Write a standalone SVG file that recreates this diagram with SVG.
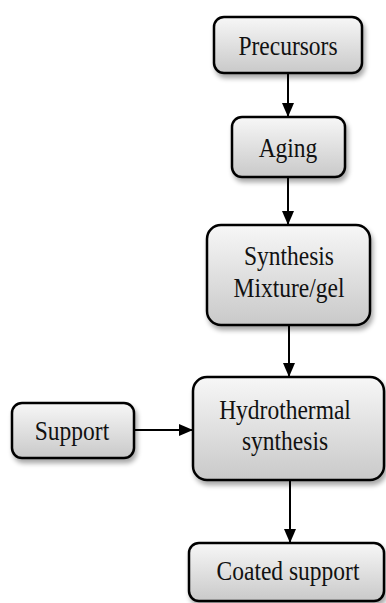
<svg xmlns="http://www.w3.org/2000/svg" width="386" height="603" viewBox="0 0 386 603">
  <defs>
    <linearGradient id="boxFill" x1="0" y1="0" x2="0" y2="1">
      <stop offset="0" stop-color="#f7f7f7"/>
      <stop offset="1" stop-color="#c9c9c9"/>
    </linearGradient>
    <filter id="shadow" x="-20%" y="-20%" width="150%" height="160%">
      <feGaussianBlur in="SourceAlpha" stdDeviation="2.5"/>
      <feOffset dx="2" dy="4" result="blur"/>
      <feComponentTransfer><feFuncA type="linear" slope="0.35"/></feComponentTransfer>
      <feMerge><feMergeNode/><feMergeNode in="SourceGraphic"/></feMerge>
    </filter>
    <marker id="arrow" viewBox="0 0 14 12" refX="14" refY="6" markerWidth="14" markerHeight="12" markerUnits="userSpaceOnUse" orient="auto">
      <path d="M0,0 L14,6 L0,12 Z" fill="#000"/>
    </marker>
  </defs>
  <style>
    .box { fill: url(#boxFill); stroke: #000; stroke-width: 2.5; filter: url(#shadow); }
    text { font-family: 'Liberation Serif', 'Times New Roman', Times, 'DejaVu Serif', 'Noto Serif', FreeSerif, serif; font-size: 27px; fill: #111; text-anchor: middle; }
    .edge { stroke: #000; stroke-width: 2; fill: none; marker-end: url(#arrow); }
  </style>
  <rect width="386" height="603" fill="#fff"/>

  <!-- connectors -->
  <g id="connectors">
    <line class="edge" x1="288" y1="73" x2="288" y2="117"/>
    <line class="edge" x1="288" y1="177" x2="288" y2="225"/>
    <line class="edge" x1="289" y1="325" x2="289" y2="377"/>
    <line class="edge" x1="134" y1="430" x2="193" y2="430"/>
    <line class="edge" x1="290" y1="480" x2="290" y2="543"/>
  </g>

  <g id="precursors">
    <rect class="box" x="214" y="17" width="148" height="56" rx="10"/>
    <text transform="translate(288,55) scale(0.87,1)">Precursors</text>
  </g>

  <g id="aging">
    <rect class="box" x="232" y="117" width="113" height="60" rx="10"/>
    <text transform="translate(288,157) scale(0.87,1)">Aging</text>
  </g>

  <g id="synthesis-mixture">
    <rect class="box" x="207" y="225" width="163" height="100" rx="14"/>
    <text transform="translate(289,265) scale(0.87,1)">Synthesis</text>
    <text transform="translate(289,297) scale(0.87,1)">Mixture/gel</text>
  </g>

  <g id="support">
    <rect class="box" x="12" y="403" width="122" height="55" rx="10"/>
    <text transform="translate(72,440) scale(0.87,1)">Support</text>
  </g>

  <g id="hydrothermal-synthesis">
    <rect class="box" x="193" y="377" width="191" height="103" rx="14"/>
    <text transform="translate(285,419) scale(0.87,1)">Hydrothermal</text>
    <text transform="translate(285,450) scale(0.87,1)">synthesis</text>
  </g>

  <g id="coated-support">
    <rect class="box" x="189" y="543" width="195" height="58" rx="10"/>
    <text transform="translate(288,580) scale(0.87,1)">Coated support</text>
  </g>
</svg>
